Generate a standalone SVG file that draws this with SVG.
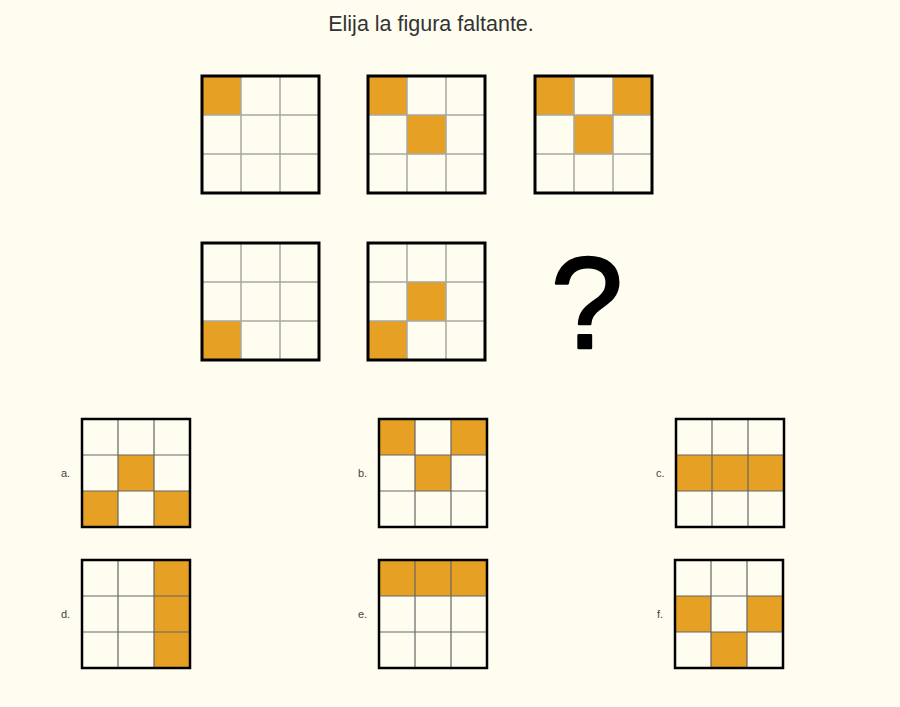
<svg xmlns="http://www.w3.org/2000/svg" width="900" height="707" viewBox="0 0 900 707">
<style>
.bg{fill:#fffcf0}
.title{font-family:"Liberation Sans",Arial,sans-serif;font-size:21.5px;fill:#333}
.lbl{font-family:"Liberation Sans",Arial,sans-serif;font-size:11px;fill:#444}
.q{font-family:"Liberation Sans",Arial,sans-serif;font-size:130px;fill:#000;stroke:#000;stroke-width:2.5;stroke-linejoin:round;stroke-linecap:round}
.on{fill:#e6a124}
.gl{stroke:#a8a8a0;stroke-width:1.5;fill:none}
.gl2{stroke:#666;stroke-width:1.2;fill:none}
.bd{stroke:#000;stroke-width:3;fill:none}
.bd2{stroke:#000;stroke-width:2.5;fill:none}
</style>
<defs>
<g id="big"><path class="gl" d="M39 0V117M78 0V117M0 39H117M0 78H117"/><rect class="bd" x="0" y="0" width="117" height="117"/></g>
<g id="small"><path class="gl2" d="M36 0V108M72 0V108M0 36H108M0 72H108"/><rect class="bd2" x="0" y="0" width="108" height="108"/></g>
</defs>
<rect class="bg" x="0" y="0" width="900" height="707"/>
<text class="title" x="431" y="31" text-anchor="middle">Elija la figura faltante.</text>

<g id="p1" transform="translate(202,76)"><rect class="on" x="0" y="0" width="39" height="39"/><use href="#big"/></g>
<g id="p2" transform="translate(368,76)"><rect class="on" x="0" y="0" width="39" height="39"/><rect class="on" x="39" y="39" width="39" height="39"/><use href="#big"/></g>
<g id="p3" transform="translate(535,76)"><rect class="on" x="0" y="0" width="39" height="39"/><rect class="on" x="78" y="0" width="39" height="39"/><rect class="on" x="39" y="39" width="39" height="39"/><use href="#big"/></g>
<g id="p4" transform="translate(202,243)"><rect class="on" x="0" y="78" width="39" height="39"/><use href="#big"/></g>
<g id="p5" transform="translate(368,243)"><rect class="on" x="0" y="78" width="39" height="39"/><rect class="on" x="39" y="39" width="39" height="39"/><use href="#big"/></g>
<g id="qmark"><text class="q" x="587" y="348" text-anchor="middle">?</text></g>

<g id="oa"><text class="lbl" x="61" y="477">a.</text><g transform="translate(82,419)"><rect class="on" x="36" y="36" width="36" height="36"/><rect class="on" x="0" y="72" width="36" height="36"/><rect class="on" x="72" y="72" width="36" height="36"/><use href="#small"/></g></g>
<g id="ob"><text class="lbl" x="358" y="477">b.</text><g transform="translate(379,419)"><rect class="on" x="0" y="0" width="36" height="36"/><rect class="on" x="72" y="0" width="36" height="36"/><rect class="on" x="36" y="36" width="36" height="36"/><use href="#small"/></g></g>
<g id="oc"><text class="lbl" x="656" y="477">c.</text><g transform="translate(676,419)"><rect class="on" x="0" y="36" width="108" height="36"/><use href="#small"/></g></g>
<g id="od"><text class="lbl" x="61" y="618">d.</text><g transform="translate(82,560)"><rect class="on" x="72" y="0" width="36" height="108"/><use href="#small"/></g></g>
<g id="oe"><text class="lbl" x="358" y="618">e.</text><g transform="translate(379,560)"><rect class="on" x="0" y="0" width="108" height="36"/><use href="#small"/></g></g>
<g id="of"><text class="lbl" x="657" y="618">f.</text><g transform="translate(675,560)"><rect class="on" x="0" y="36" width="36" height="36"/><rect class="on" x="72" y="36" width="36" height="36"/><rect class="on" x="36" y="72" width="36" height="36"/><use href="#small"/></g></g>
</svg>
